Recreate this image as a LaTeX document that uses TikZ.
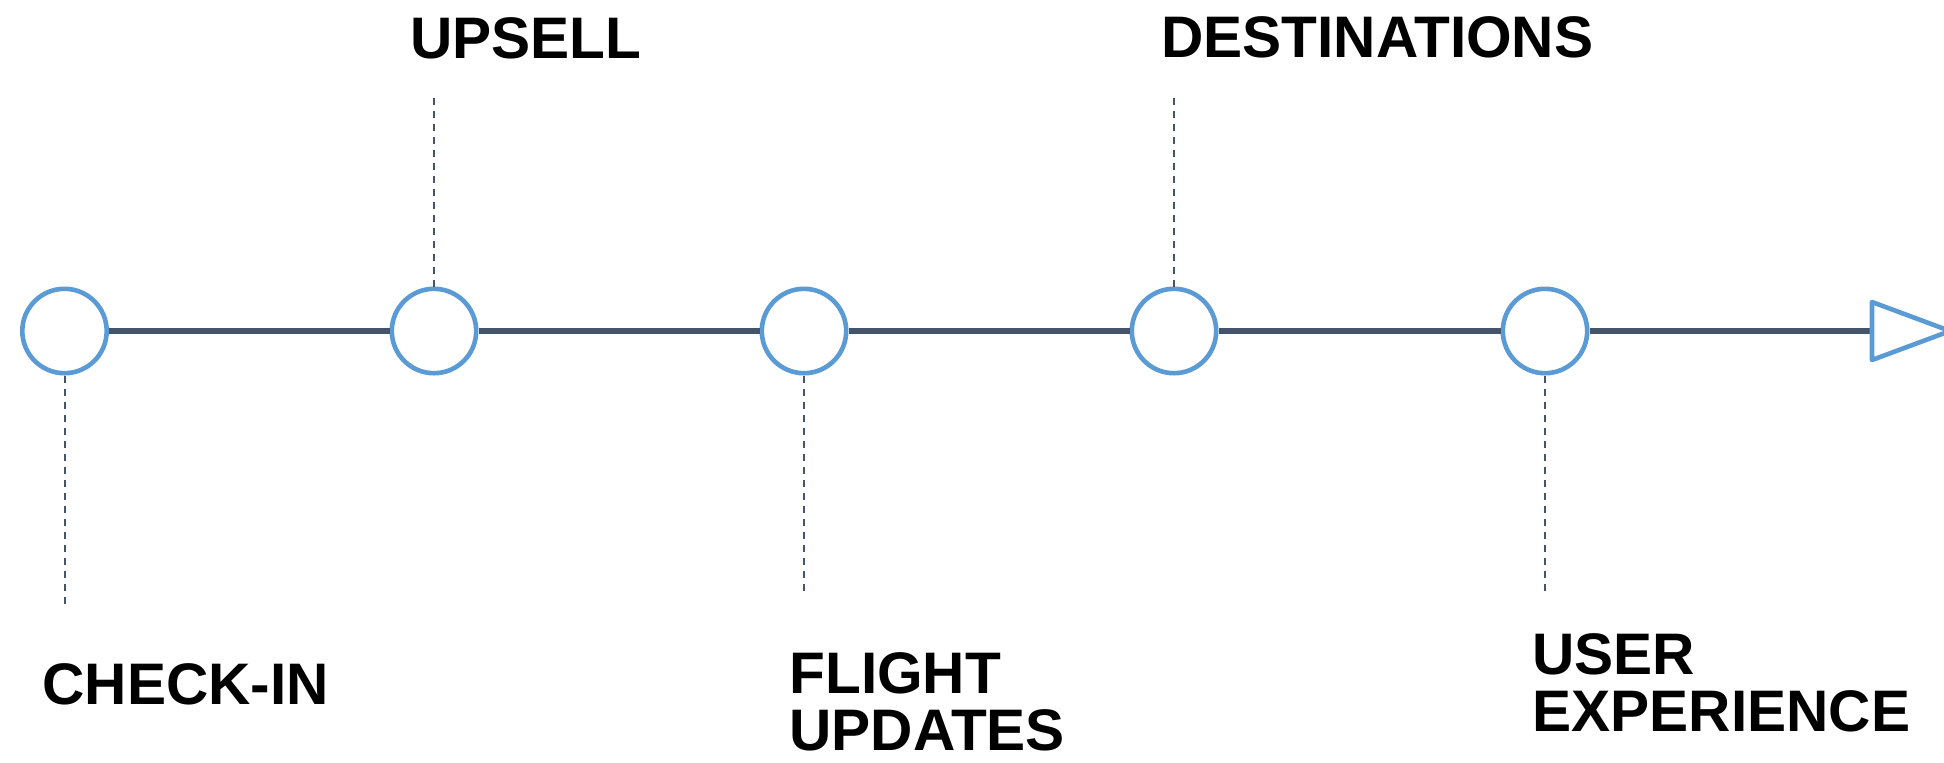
\documentclass[tikz,border=0pt]{standalone}
\usepackage{fontspec}
\setmainfont{Liberation Sans}
\definecolor{axiscol}{HTML}{44546A}
\definecolor{markblue}{HTML}{5B9BD5}
\begin{document}
\begin{tikzpicture}[x=0.5pt,y=-0.5pt,
  milestone/.style={circle,draw=markblue,line width=2.3pt,fill=white,minimum size=42.2pt,inner sep=0pt},
  axisline/.style={draw=axiscol,line width=2.7pt},
  leader/.style={draw=axiscol,line width=1pt,dash pattern=on 3.5pt off 3pt},
  label/.style={anchor=north west,inner sep=0pt,align=left,font=\fontsize{29.3}{28.6}\selectfont\bfseries}]
\useasboundingbox (0,0) rectangle (1944,762);
% nodes
\node[milestone] (c1) at (64.5,331) {};
\node[milestone] (c2) at (434,331) {};
\node[milestone] (c3) at (804,331) {};
\node[milestone] (c4) at (1174,331) {};
\node[milestone] (c5) at (1545,331) {};
\coordinate (tl) at (1872,331);
\coordinate (tt) at (1872,302);
\coordinate (tb) at (1872,360);
\coordinate (tp) at (1950,331);
% axis
\path[axisline] (c1) -- (c2);
\path[axisline] (c2) -- (c3);
\path[axisline] (c3) -- (c4);
\path[axisline] (c4) -- (c5);
\path[axisline] (c5) -- (tl);
\draw[draw=markblue,line width=2.3pt,fill=white,line join=round] (tt) -- (tp) -- (tb) -- cycle;
% leaders
\coordinate (e1) at (64.5,608);
\coordinate (e2) at (434,98);
\coordinate (e3) at (804,594);
\coordinate (e4) at (1174,98);
\coordinate (e5) at (1545,594);
\path[leader] (c1.south) -- (e1);
\path[leader] (c2.north) -- (e2);
\path[leader] (c3.south) -- (e3);
\path[leader] (c4.north) -- (e4);
\path[leader] (c5.south) -- (e5);
% labels
\node[label] (l2) at (410,17) {UPSELL};
\node[label] (l4) at (1161,16) {DESTINATIONS};
\node[label] (l1) at (42,663) {CHECK-IN};
\node[label] (l3) at (789,652) {FLIGHT\\UPDATES};
\node[label] (l5) at (1532,633) {USER\\EXPERIENCE};
\end{tikzpicture}
\end{document}
